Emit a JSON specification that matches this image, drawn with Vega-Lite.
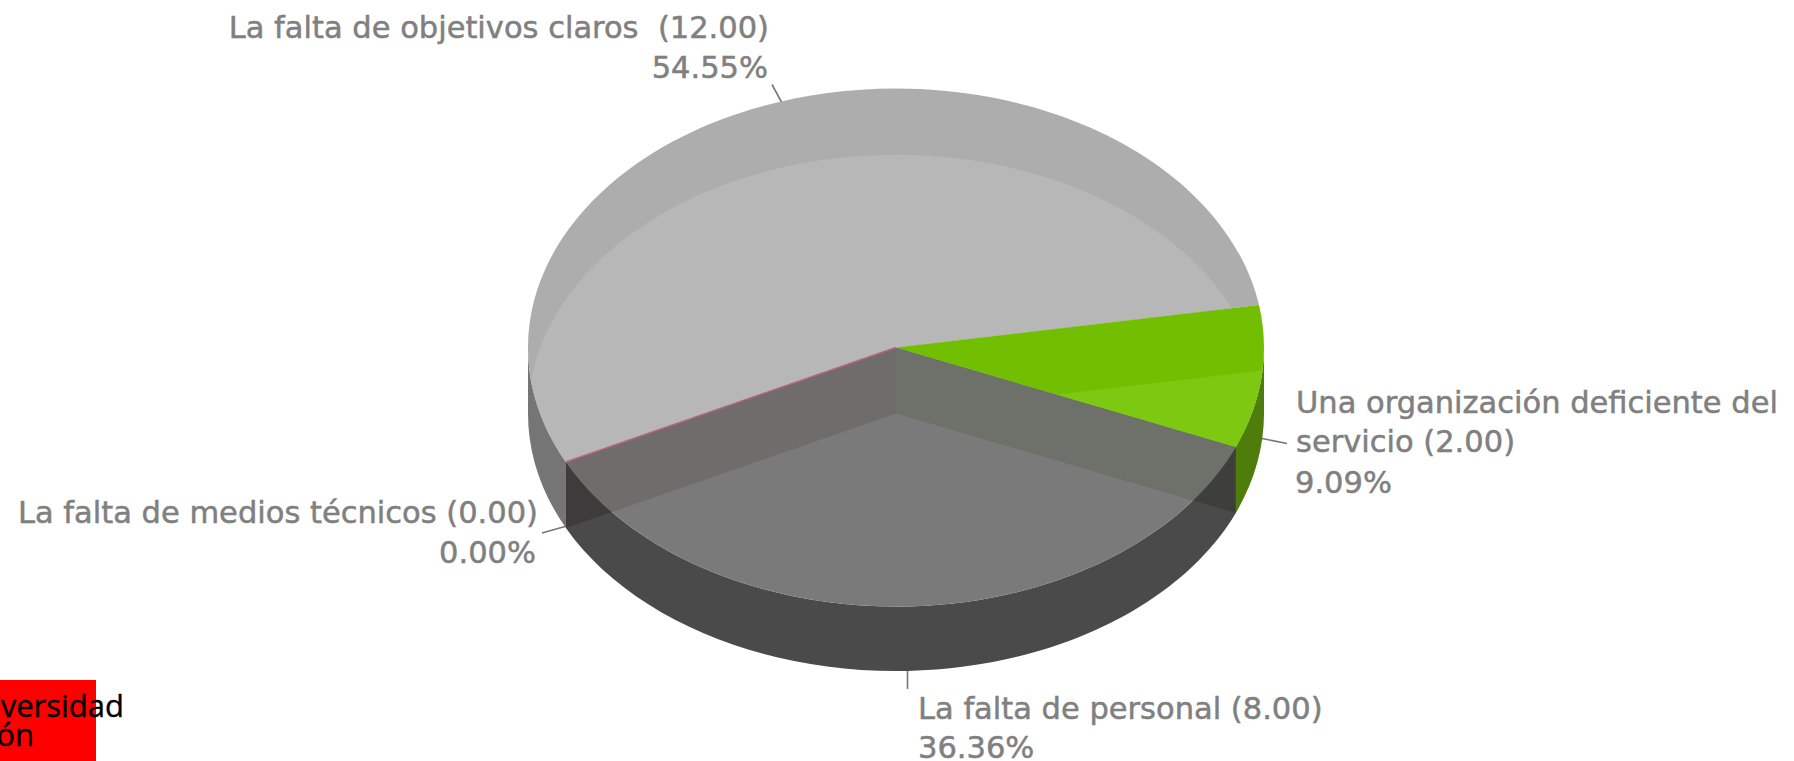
{
"$schema":"https://vega.github.io/schema/vega-lite/v6.json",
"width":1794,"height":761,"padding":0,"autosize":{"type":"none"},
"background":"white",
"config":{"view":{"stroke":null}},
"datasets":{
"slices":[
{"part":"personal_side","slice":"La falta de personal","value":8,"x":0,"y":0},
{"part":"objetivos_side","slice":"La falta de objetivos claros","value":12,"x":0,"y":0},
{"part":"organizacion_side","slice":"Una organización deficiente del servicio","value":2,"x":0,"y":0},
{"part":"wall_left","slice":"La falta de medios técnicos","value":0,"x":0,"y":0},
{"part":"wall_right","slice":"Una organización deficiente del servicio","value":2,"x":0,"y":0},
{"part":"personal_top","slice":"La falta de personal","value":8,"x":0,"y":0},
{"part":"wall_left_top","slice":"La falta de medios técnicos","value":0,"x":0,"y":0},
{"part":"wall_right_top","slice":"Una organización deficiente del servicio","value":2,"x":0,"y":0},
{"part":"objetivos_top","slice":"La falta de objetivos claros","value":12,"x":0,"y":0},
{"part":"objetivos_light","slice":"La falta de objetivos claros","value":12,"x":0,"y":0},
{"part":"organizacion_top","slice":"Una organización deficiente del servicio","value":2,"x":0,"y":0},
{"part":"organizacion_light","slice":"Una organización deficiente del servicio","value":2,"x":0,"y":0}
],
"zero":[{"slice":"La falta de medios técnicos","value":0,"x":0,"y":0}],
"leaders":[
{"slice":"La falta de objetivos claros","x":-124,"y":-263,"x2":-114,"y2":-244.5},
{"slice":"Una organización deficiente del servicio","x":366,"y":91,"x2":391,"y2":96},
{"slice":"La falta de personal","x":11.5,"y":322.5,"x2":11.5,"y2":341.5},
{"slice":"La falta de medios técnicos","x":-354,"y":185.5,"x2":-331,"y2":179}
],
"labelsRight":[
{"text":"La falta de objetivos claros \u00a0(12.00)","x":-127,"y":-309.5},
{"text":"54.55%","x":-128,"y":-269.5},
{"text":"La falta de medios técnicos (0.00)","x":-358,"y":175.5},
{"text":"0.00%","x":-360,"y":215.5}
],
"labelsLeft":[
{"text":"Una organización deficiente del","x":400,"y":65.5},
{"text":"servicio (2.00)","x":400,"y":104.5},
{"text":"9.09%","x":399,"y":145.5},
{"text":"La falta de personal (8.00)","x":22,"y":371.5},
{"text":"36.36%","x":22,"y":410.5}
],
"logoBox":[{"x":-896,"x2":-800,"y":332.5,"y2":413.5}],
"logoText":[
{"text":"versidad","x":-772,"y":369.5},
{"text":"ón","x":-862,"y":398.5}
]
},
"encoding":{
"x":{"field":"x","type":"quantitative","axis":null,"scale":{"domain":[-896,898]}},
"y":{"field":"y","type":"quantitative","axis":null,"scale":{"domain":[413.5,-347.5]}}
},
"layer":[
{"data":{"name":"logoBox"},"mark":{"type":"rect","color":"#ff0000"},
 "encoding":{"x2":{"field":"x2"},"y2":{"field":"y2"}}},
{"data":{"name":"logoText"},"mark":{"type":"text","align":"right","baseline":"alphabetic","font":"Open Sans","fontSize":31,"fontWeight":500,"fill":"#000000","stroke":"#000000","strokeWidth":0.4},
 "encoding":{"text":{"field":"text"}}},
{"data":{"name":"leaders"},"mark":{"type":"rule","color":"#777777","strokeWidth":1.6},
 "encoding":{"x2":{"field":"x2"},"y2":{"field":"y2"}}},
{"data":{"name":"slices"},
 "mark":{"type":"point","filled":true,"opacity":1,"size":4,"strokeWidth":0},
 "encoding":{
  "shape":{"field":"part","type":"nominal","legend":null,"scale":{
   "domain":["personal_side","objetivos_side","organizacion_side","wall_left","wall_right","personal_top","wall_left_top","wall_right_top","objetivos_top","objetivos_light","organizacion_top","organizacion_light"],
   "range":[
   "M339.8,99.5A368,259 0 0 1 -330.1,114.5L-330.1,180.5A368,256.5 0 0 0 339.8,165.5Z",
   "M-368,0A368,259 0 0 0 -330.1,114.5L-330.1,180.5A368,259 0 0 1 -368,66Z",
   "M339.8,99.5A368,259 0 0 0 368,0L368,66A368,259 0 0 1 339.8,165.5Z",
   "M0,0L-330.1,114.5L-330.1,180.5L0,66Z",
   "M0,0L339.8,99.5L339.8,165.5L0,66Z",
   "M0,0L339.8,99.5A368,259 0 0 1 -330.1,114.5Z",
   "M0,0L-330.1,114.5A368,259 0 0 0 -284.2,164.6L0,66Z",
   "M0,0L339.8,99.5A368,259 0 0 1 297,152.9L0,66Z",
   "M0,0L-330.1,114.5A368,259 0 1 1 363,-42.5Z",
   "M0,0L-330.1,114.5A368,259 0 0 1 -365,33A368,259 0 0 1 336,-39.3Z",
   "M0,0L363,-42.5A368,259 0 0 1 339.8,99.5Z",
   "M161,47.1L366.5,23.1A368,259 0 0 1 339.8,99.5Z"
   ]}},
  "fill":{"field":"part","type":"nominal","legend":null,"scale":{
   "domain":["personal_side","objetivos_side","organizacion_side","wall_left","wall_right","personal_top","wall_left_top","wall_right_top","objetivos_top","objetivos_light","organizacion_top","organizacion_light"],
   "range":["#4a4a4a","#757575","#4e7d0b","#3f3a3b","#3e3f3a","#7a7a7a","#716c6c","#6e706a","#adadad","#b7b7b7","#71bf00","#7dc912"]}}
 }},
{"data":{"name":"zero"},"mark":{"type":"point","filled":false,"opacity":1,"size":4,"strokeWidth":1.5,"stroke":"#b5647d","shape":"M0,0L-330.1,114.5"}},
{"data":{"name":"labelsRight"},"mark":{"type":"text","align":"right","baseline":"alphabetic","font":"DejaVu Sans","fontSize":30.5,"fill":"#808080","stroke":"#808080","strokeWidth":0.5},
 "encoding":{"text":{"field":"text"}}},
{"data":{"name":"labelsLeft"},"mark":{"type":"text","align":"left","baseline":"alphabetic","font":"DejaVu Sans","fontSize":30.5,"fill":"#808080","stroke":"#808080","strokeWidth":0.5},
 "encoding":{"text":{"field":"text"}}}
]
}
